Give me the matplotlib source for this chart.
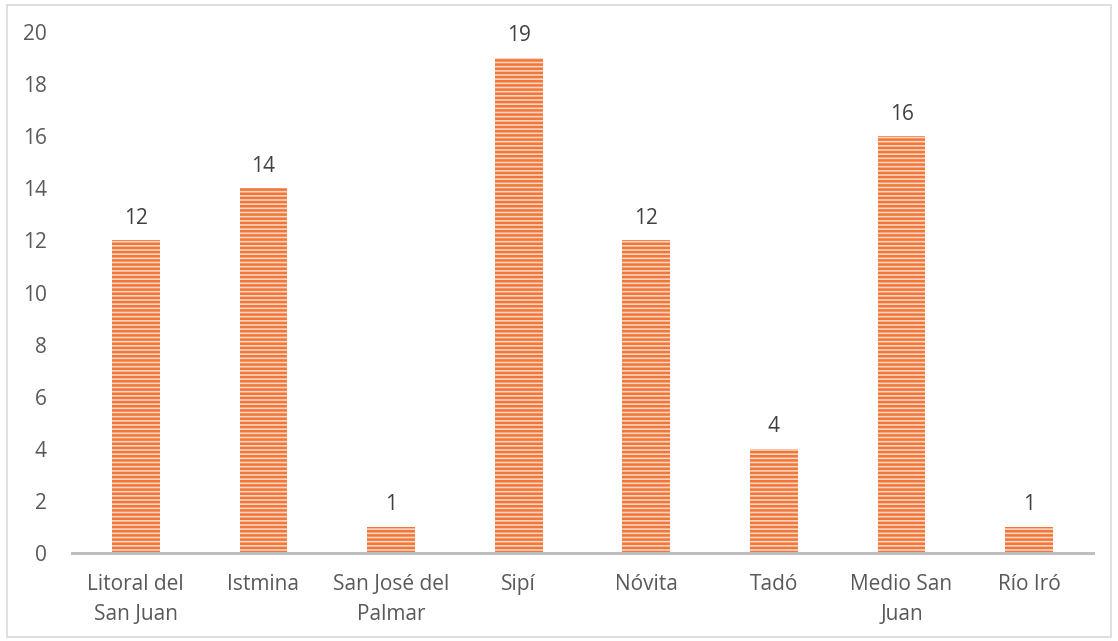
import matplotlib.pyplot as plt
from matplotlib.patches import Rectangle

plt.rcParams["font.family"] = ["Open Sans", "DejaVu Sans"]
plt.rcParams["hatch.linewidth"] = 1.8

municipios = ["Litoral del\nSan Juan", "Istmina", "San José del\nPalmar", "Sipí",
              "Nóvita", "Tadó", "Medio San\nJuan", "Río Iró"]
valores = [12, 14, 1, 19, 12, 4, 16, 1]
y_ticks = [0, 2, 4, 6, 8, 10, 12, 14, 16, 18, 20]

BAR_FACE = "#FBD5C0"
BAR_STRIPE = "#F0763A"
TEXT = "#595959"
AXIS = "#BFBFBF"
FS = 15

fig = plt.figure(figsize=(11.18, 6.41), dpi=100)
fig.patches.append(Rectangle((0.006, 0.006), 0.988, 0.986, transform=fig.transFigure,
                             fill=False, edgecolor="#D9D9D9", lw=1.2))
ax = fig.add_axes([0.0644, 0.1373, 0.9132, 0.8127])

x = range(len(municipios))
bars = ax.bar(x, valores, width=0.375, color=BAR_FACE, edgecolor=BAR_STRIPE,
              hatch="----", linewidth=0, zorder=2)
for b, v in zip(bars, valores):
    ax.text(b.get_x() + b.get_width() / 2, v + 0.45, str(v), ha="center", va="bottom",
            fontsize=FS, color="#404040")

ax.set_xlim(-0.5, len(municipios) - 0.5)
ax.set_ylim(0, 20)
ax.set_yticks(y_ticks)
ax.set_xticks(list(x))
ax.set_xticklabels(municipios, fontsize=FS, color=TEXT, linespacing=1.55)
ax.tick_params(axis="y", length=0, labelsize=FS, labelcolor=TEXT, pad=18)
ax.tick_params(axis="x", length=0, pad=15)
for s in ["top", "right", "left"]:
    ax.spines[s].set_visible(False)
ax.spines["bottom"].set_color(AXIS)
ax.spines["bottom"].set_linewidth(2.2)
ax.spines["bottom"].set_zorder(3)

fig.savefig("out.png", dpi=100)
